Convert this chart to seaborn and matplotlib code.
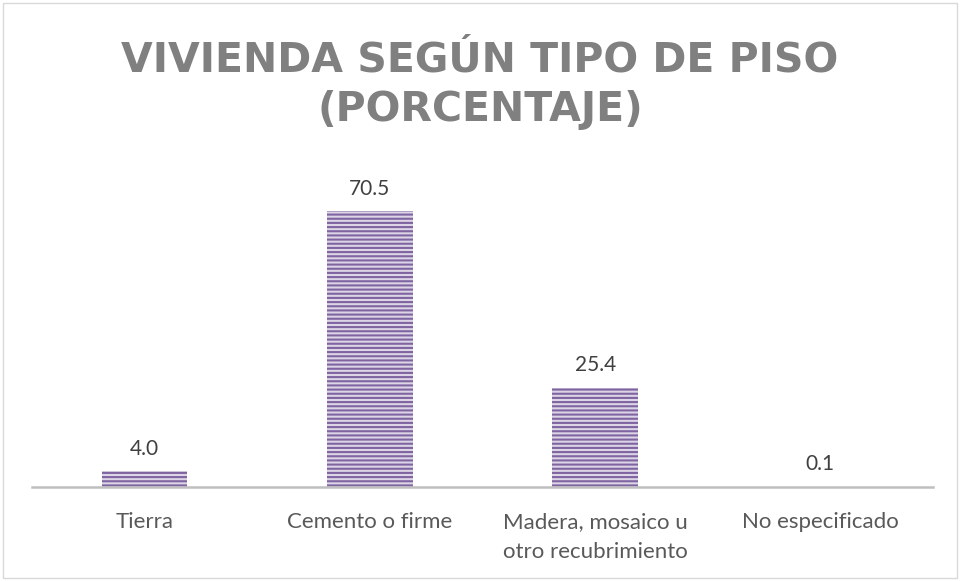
import matplotlib
matplotlib.use("Agg")
import matplotlib.pyplot as plt
import seaborn as sns
from matplotlib.patches import Rectangle

# Datos del grafico
categorias = ["Tierra", "Cemento o firme", "Madera, mosaico u\notro recubrimiento", "No especificado"]
porcentajes = [4.0, 70.5, 25.4, 0.1]
etiquetas = ["4.0", "70.5", "25.4", "0.1"]
titulo = "VIVIENDA SEGÚN TIPO DE PISO\n(PORCENTAJE)"

sns.set_style("white")
plt.rcParams["font.family"] = ["Lato", "DejaVu Sans"]
plt.rcParams["hatch.linewidth"] = 1.5

fig = plt.figure(figsize=(9.63, 5.81), dpi=100)
ax = fig.add_axes([0.0332, 0.1618, 0.9357, 0.5387])

sns.barplot(x=categorias, y=porcentajes, color="#DCD2E8", width=0.38, ax=ax)

for bar in ax.patches:
    bar.set_hatch("----")
    bar.set_edgecolor("#8064A2")
    bar.set_linewidth(0)

# Etiquetas de datos
for i, (val, txt) in enumerate(zip(porcentajes, etiquetas)):
    ax.annotate(txt, xy=(i, val), xytext=(0, 12), textcoords="offset points",
                ha="center", va="baseline", fontsize=15, color="#404040")

ax.set_xlim(-0.5, len(categorias) - 0.5)
ax.set_ylim(0, 80)
ax.set_yticks([])
ax.set_xlabel("")
ax.set_ylabel("")
for side in ["left", "right", "top"]:
    ax.spines[side].set_visible(False)
ax.spines["bottom"].set_color("#BFBFBF")
ax.spines["bottom"].set_linewidth(1.8)
ax.tick_params(axis="x", length=0, pad=18, labelsize=16, labelcolor="#595959")
for lbl in ax.get_xticklabels():
    lbl.set_linespacing(1.6)

fig.text(0.4984, 0.93, titulo, ha="center", va="top", fontsize=29.5,
         fontweight="bold", color="#808080", family="DejaVu Sans", linespacing=1.3)

# Borde del area del grafico
fig.patches.append(Rectangle((3 / 963, 3 / 581), 954 / 963, 575 / 581, transform=fig.transFigure,
                             fill=False, edgecolor="#D9D9D9", linewidth=1))

fig.savefig("out.png", dpi=100)
